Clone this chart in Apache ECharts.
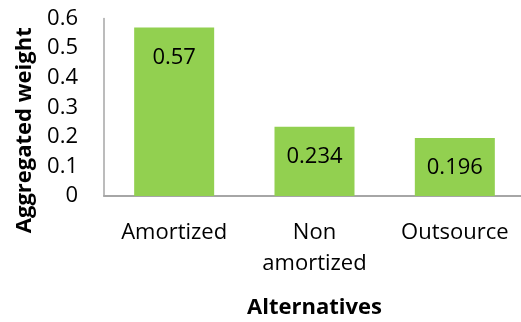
<!DOCTYPE html>
<html>
<head>
<meta charset="utf-8">
<script src="https://cdn.jsdelivr.net/npm/echarts@6/dist/echarts.min.js"></script>
<style>
  html, body { margin: 0; padding: 0; background: #fff; }
  #chart { width: 521px; height: 322px; }
</style>
</head>
<body>
<div id="chart"></div>
<script>
const categories = ['Amortized', 'Non\namortized', 'Outsource']
const weights = [0.57, 0.234, 0.196]
const yTicks = { min: 0, max: 0.6, interval: 0.1 }

const font = '"Open Sans", sans-serif'
const chart = echarts.init(document.getElementById('chart'))

chart.setOption({
  animation: false,
  grid: { left: 104, right: -4, top: 18.5, bottom: 126, outerBoundsMode: 'none' },
  xAxis: {
    type: 'category',
    data: categories,
    name: 'Alternatives',
    nameLocation: 'middle',
    nameGap: 101,
    nameTextStyle: { fontFamily: font, fontSize: 22, fontWeight: 'bold', color: '#000' },
    axisLine: { lineStyle: { color: '#A6A6A6', width: 2 } },
    axisTick: { show: false },
    axisLabel: { fontFamily: font, fontSize: 22, color: '#000', lineHeight: 31, margin: 21, interval: 0 }
  },
  yAxis: {
    type: 'value',
    min: yTicks.min,
    max: yTicks.max,
    interval: yTicks.interval,
    name: 'Aggregated weight',
    nameLocation: 'middle',
    nameGap: 66,
    nameTextStyle: { fontFamily: font, fontSize: 22, fontWeight: 'bold', color: '#000', padding: [0, 46, 0, 0] },
    axisLine: { show: true, lineStyle: { color: '#A6A6A6', width: 1.5 } },
    axisTick: { show: false },
    splitLine: { show: false },
    axisLabel: {
      fontFamily: font, fontSize: 22, color: '#000', margin: 26,
      formatter: v => String(Math.round(v * 10) / 10)
    }
  },
  series: [{
    type: 'bar',
    data: weights,
    barWidth: 80,
    itemStyle: { color: '#92D050' },
    label: {
      show: true,
      position: 'insideTop',
      distance: 19,
      fontFamily: font,
      fontSize: 22,
      color: '#000'
    }
  }]
})
</script>
</body>
</html>
